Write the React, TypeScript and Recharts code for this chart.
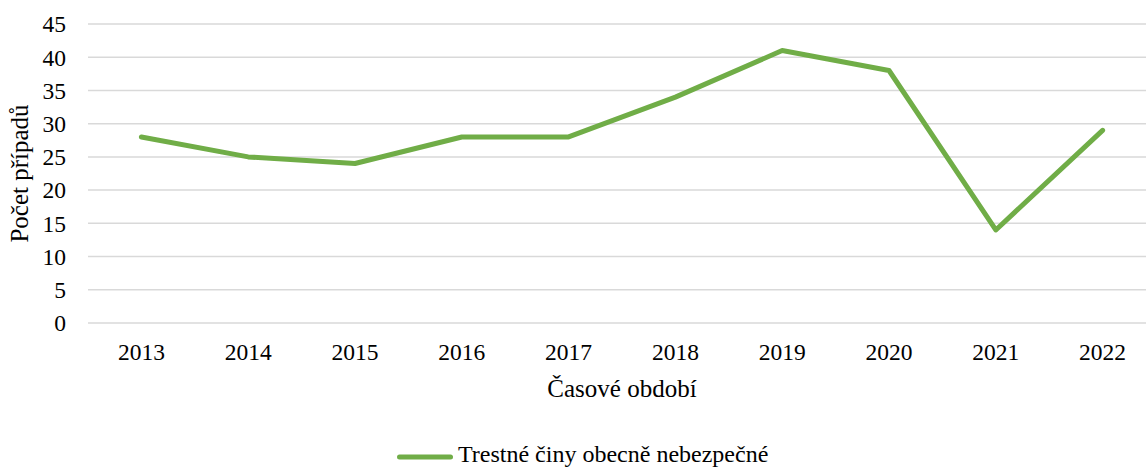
import { CartesianGrid, Label, Legend, Line, LineChart, XAxis, YAxis } from 'recharts';

const years = ['2013', '2014', '2015', '2016', '2017', '2018', '2019', '2020', '2021', '2022'];
const cases = [28, 25, 24, 28, 28, 34, 41, 38, 14, 29];
const yTicks = [0, 5, 10, 15, 20, 25, 30, 35, 40, 45];
const seriesName = 'Trestné činy obecně nebezpečné';
const xTitle = 'Časové období';
const yTitle = 'Počet případů';

const FONT = '"Liberation Serif", "Times New Roman", serif';
const GREEN = '#70AD47';

const data = years.map((year, i) => ({ year, value: cases[i] }));

/** Rotated y-axis title, centred on the axis band. */
function YTitle({ viewBox }: { viewBox?: { x: number; y: number; width: number; height: number } }) {
  if (!viewBox) return null;
  const cx = viewBox.x + 19;
  const cy = viewBox.y + viewBox.height / 2;
  return (
    <text
      x={cx}
      y={cy}
      dy="0.355em"
      transform={`rotate(-90 ${cx} ${cy})`}
      textAnchor="middle"
      style={{ fontFamily: FONT, fontSize: 25 }}
      fill="#000"
    >
      {yTitle}
    </text>
  );
}

/** Single-item legend: thick line swatch + series name. */
function SeriesLegend() {
  return (
    <svg width={420} height={30} style={{ display: 'block' }}>
      <line x1={4.5} y1={17} x2={55.5} y2={17} stroke={GREEN} strokeWidth={5} strokeLinecap="round" />
      <text x={63} y={22} style={{ fontFamily: FONT, fontSize: 24 }} fill="#000">
        {seriesName}
      </text>
    </svg>
  );
}

export default function App() {
  return (
    <div
      style={{
        position: 'absolute',
        left: 0,
        top: 0,
        width: 1146,
        height: 468,
        overflow: 'hidden',
        background: '#fff',
        fontFamily: FONT,
      }}
    >
      <style>{`.recharts-wrapper text, .recharts-legend-wrapper text { font-family: ${FONT} !important; }`}</style>
      <LineChart width={1158} height={468} data={data} margin={{ top: 24, right: 2, bottom: 0, left: 0 }}>
        <CartesianGrid vertical={false} stroke="#d9d9d9" strokeWidth={1.5} />
        <XAxis
          dataKey="year"
          height={145}
          padding={{ left: 53.4, right: 53.4 }}
          axisLine={false}
          tickLine={false}
          tickSize={6}
          tickMargin={14}
          interval={0}
          tick={{ fontSize: 23.5, fill: '#000', style: { fontFamily: FONT } }}
        >
          <Label
            value={xTitle}
            position="insideTop"
            offset={56}
            style={{ fontFamily: FONT, fontSize: 25, fill: '#000' }}
          />
        </XAxis>
        <YAxis
          width={88}
          domain={[0, 45]}
          ticks={yTicks}
          axisLine={false}
          tickLine={false}
          tickSize={6}
          tickMargin={16}
          tick={{ fontSize: 23.5, fill: '#000', style: { fontFamily: FONT } }}
        >
          <Label content={<YTitle />} />
        </YAxis>
        <Legend
          verticalAlign="middle"
          layout="horizontal"
          content={<SeriesLegend />}
          wrapperStyle={{ top: 440, left: 395, width: 420, height: 30 }}
        />
        <Line
          type="linear"
          dataKey="value"
          name={seriesName}
          stroke={GREEN}
          strokeWidth={5}
          strokeLinecap="round"
          strokeLinejoin="round"
          dot={false}
          activeDot={false}
          isAnimationActive={false}
        />
      </LineChart>
    </div>
  );
}
